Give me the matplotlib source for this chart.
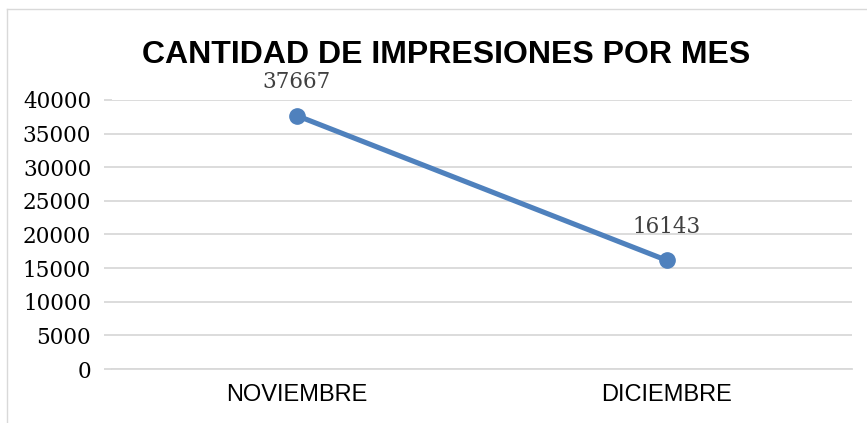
import matplotlib.pyplot as plt
from matplotlib.lines import Line2D

months = ['NOVIEMBRE', 'DICIEMBRE']
impresiones = [37667, 16143]
yticks = [0, 5000, 10000, 15000, 20000, 25000, 30000, 35000, 40000]

fig = plt.figure(figsize=(8.67, 4.23), dpi=100)
ax = fig.add_axes([112/867, 1 - 369/423, 740/867, 269/423])

x = list(range(len(months)))
ax.plot(x, impresiones, color='#4F81BD', lw=3.7, marker='o', ms=11,
        solid_capstyle='round', zorder=3)

for xi, v in zip(x, impresiones):
    ax.annotate(str(v), (xi, v), xytext=(0, 24), textcoords='offset points',
                ha='center', va='center', family='DejaVu Serif', fontsize=15.5,
                color='#404040')

ax.set_xlim(-0.5, 1.5)
ax.set_ylim(0, 40000)
ax.set_yticks(yticks)
ax.set_yticklabels([str(t) for t in yticks], family='DejaVu Serif', fontsize=15.5)
ax.set_xticks(x)
ax.set_xticklabels(months, family='Liberation Sans', fontsize=17)
ax.grid(axis='y', color='#D9D9D9', lw=1.3)
ax.set_axisbelow(True)
for s in ['top', 'right', 'left']:
    ax.spines[s].set_visible(False)
ax.spines['bottom'].set_color('#D9D9D9')
ax.spines['bottom'].set_linewidth(1.3)
ax.tick_params(axis='y', length=6, width=1.3, color='#D9D9D9', pad=9)
ax.tick_params(axis='x', length=0, pad=11)

fig.text(446/867, 1 - 55/423, 'CANTIDAD DE IMPRESIONES POR MES', ha='center',
         va='center', family='Liberation Sans', fontweight='bold', fontsize=23)

# light border on the left and top like the source
fig.add_artist(Line2D([7/867, 7/867], [0, 1 - 9/423], transform=fig.transFigure,
                      color='#D9D9D9', lw=1))
fig.add_artist(Line2D([7/867, 1], [1 - 9/423, 1 - 9/423], transform=fig.transFigure,
                      color='#D9D9D9', lw=1))

fig.savefig('out.png', dpi=100)
